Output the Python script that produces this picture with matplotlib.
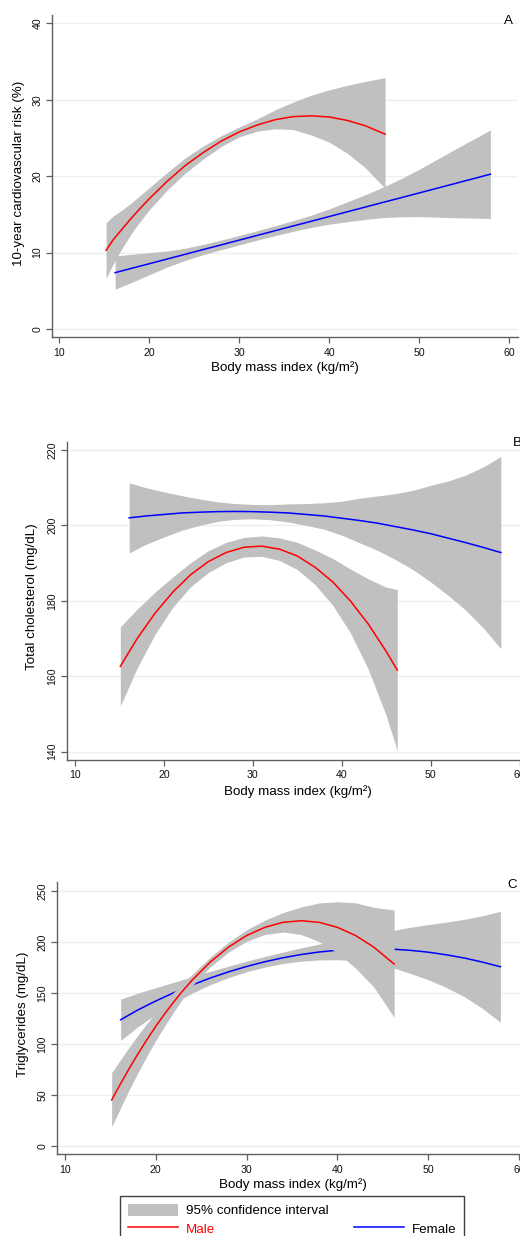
import matplotlib
matplotlib.use("Agg")
import matplotlib.pyplot as plt
from matplotlib.patches import Patch
from matplotlib.lines import Line2D

plt.rcParams['font.family'] = ['Liberation Sans', 'DejaVu Sans']

# ---------------- data ----------------
x_ticks = [10, 20, 30, 40, 50, 60]
xlabel_text = "Body mass index (kg/m²)"

# Panel A: 10-year cardiovascular risk (%)
a_yticks = [0, 10, 20, 30, 40]
a_ylabel = "10-year cardiovascular risk (%)"
a_male_x = [15.2, 16, 17, 18, 19, 20, 22, 24, 26, 28, 30, 32, 34, 36, 38, 40, 42, 44, 46.2]
a_male_fit = [10.3, 11.7, 13.1, 14.5, 15.8, 17.05, 19.35, 21.4, 23.1, 24.6, 25.8, 26.7, 27.4, 27.8, 27.9, 27.75, 27.3, 26.6, 25.5]
a_male_lo = [6.6, 8.55, 10.6, 12.5, 14.1, 15.6, 18.2, 20.4, 22.25, 23.9, 25.15, 25.9, 26.2, 26.1, 25.4, 24.45, 23.0, 21.1, 18.4]
a_male_hi = [13.9, 14.8, 15.6, 16.5, 17.5, 18.5, 20.5, 22.4, 23.95, 25.3, 26.45, 27.5, 28.7, 29.7, 30.6, 31.3, 31.9, 32.4, 32.9]
a_fem_x = [16.2, 18, 20, 22, 24, 26, 28, 30, 32, 34, 36, 38, 40, 42, 44, 46, 48, 50, 52, 54, 56, 57.9]
a_fem_fit = [7.37, 7.93, 8.54, 9.16, 9.78, 10.40, 11.01, 11.63, 12.25, 12.87, 13.49, 14.10, 14.72, 15.34, 15.96, 16.58, 17.19, 17.81, 18.43, 19.05, 19.67, 20.26]
a_fem_lo = [5.2, 6.08, 7.09, 8.11, 8.98, 9.72, 10.38, 11.01, 11.63, 12.22, 12.79, 13.30, 13.72, 14.04, 14.34, 14.58, 14.69, 14.71, 14.63, 14.55, 14.52, 14.46]
a_fem_hi = [9.55, 9.78, 9.99, 10.21, 10.58, 11.08, 11.64, 12.25, 12.87, 13.52, 14.19, 14.90, 15.72, 16.64, 17.58, 18.58, 19.69, 20.91, 22.23, 23.55, 24.82, 26.06]

# Panel B: Total cholesterol (mg/dL)
b_yticks = [140, 160, 180, 200, 220]
b_ylabel = "Total cholesterol (mg/dL)"
b_male_x = [15.1, 17, 19, 21, 23, 25, 27, 29, 31, 33, 35, 37, 39, 41, 43, 45, 46.25]
b_male_fit = [162.6, 170.0, 176.7, 182.3, 186.9, 190.4, 192.8, 194.2, 194.5, 193.7, 191.9, 188.9, 185.0, 179.9, 173.8, 166.6, 161.6]
b_male_lo = [152.1, 162.2, 171.1, 178.3, 183.7, 187.5, 190.1, 191.6, 191.8, 190.7, 188.3, 184.3, 178.8, 171.4, 161.8, 149.6, 140.2]
b_male_hi = [173.1, 177.8, 182.3, 186.3, 190.1, 193.3, 195.5, 196.8, 197.2, 196.7, 195.5, 193.5, 191.2, 188.4, 185.8, 183.6, 183.0]
b_fem_x = [16.1, 18, 20, 22, 24, 26, 28, 30, 32, 34, 36, 38, 40, 42, 44, 46, 48, 50, 52, 54, 56, 57.9]
b_fem_fit = [202.0, 202.5, 202.9, 203.3, 203.5, 203.65, 203.7, 203.65, 203.5, 203.3, 202.9, 202.5, 201.9, 201.3, 200.6, 199.7, 198.8, 197.8, 196.6, 195.4, 194.1, 192.8]
b_fem_lo = [192.7, 195.0, 196.9, 198.7, 200.0, 201.05, 201.6, 201.75, 201.5, 200.9, 200.0, 199.0, 197.4, 195.4, 193.4, 191.0, 188.3, 185.0, 181.4, 177.4, 172.6, 167.3]
b_fem_hi = [211.3, 210.0, 208.9, 207.9, 207.0, 206.25, 205.8, 205.55, 205.5, 205.7, 205.8, 206.0, 206.4, 207.2, 207.8, 208.4, 209.3, 210.6, 211.8, 213.4, 215.6, 218.3]

# Panel C: Triglycerides (mg/dL)
c_yticks = [0, 50, 100, 150, 200, 250]
c_ylabel = "Triglycerides (mg/dL)"
c_male_x = [15.14, 16, 17, 18, 19, 20, 21, 22, 23, 24, 26, 28, 30, 32, 34, 36, 38, 40, 42, 44, 46.24]
c_male_fit = [45.4, 59.3, 75.1, 90.0, 104.1, 117.5, 130.0, 141.7, 152.6, 162.7, 180.5, 195.0, 206.4, 214.4, 219.3, 220.9, 219.3, 214.4, 206.4, 195.0, 178.5]
c_male_lo = [19.3, 35.3, 54.1, 71.5, 88.1, 103.7, 118.2, 132.1, 145.1, 157.1, 175.7, 190.1, 200.8, 207.4, 209.8, 207.4, 200.3, 189.4, 174.4, 156.0, 126.3]
c_male_hi = [72.1, 83.3, 96.1, 108.5, 120.1, 131.3, 141.8, 151.3, 160.1, 168.3, 185.3, 199.9, 212.0, 221.4, 228.8, 234.4, 238.3, 239.4, 238.4, 234.0, 231.4]
c_fem_x = [16.13, 18, 20, 22, 24, 26, 28, 30, 32, 34, 36, 38, 40, 42, 44, 46.31, 48, 50, 52, 54, 56, 57.94]
c_fem_fit = [123.9, 133.4, 142.3, 150.5, 158.0, 164.8, 170.8, 176.1, 180.7, 184.6, 187.8, 190.3, 192.0, 193.1, 193.4, 192.9, 191.9, 190.1, 187.5, 184.3, 180.3, 175.8]
c_fem_lo = [103.7, 116.9, 129.3, 140.3, 150.0, 158.3, 165.2, 170.9, 175.5, 179.0, 181.3, 182.5, 182.7, 181.9, 179.9, 174.15, 169.4, 163.1, 155.5, 146.3, 134.8, 121.5]
c_fem_hi = [144.1, 149.9, 155.3, 160.7, 166.0, 171.3, 176.4, 181.3, 185.9, 190.2, 194.3, 198.1, 201.3, 204.3, 206.9, 211.65, 214.4, 217.1, 219.5, 222.3, 225.8, 230.1]

legend_labels = ["95% confidence interval", "Male", "Female"]
panel_letters = ["A", "B", "C"]

# ---------------- style ----------------
W, H = 520, 1236
CI_COLOR = "#c0c0c0"
MALE_COLOR = "#ff0000"
FEMALE_COLOR = "#0000ff"
SPINE_COLOR = "#5f5f5f"
GRID_COLOR = "#eaf1f3"
TICK_FS = 7.6
LABEL_FS = 9.6

fig = plt.figure(figsize=(W / 100, H / 100), dpi=100)


def px_axes(left, top, right, bottom):
    return fig.add_axes([left / W, 1 - bottom / H, (right - left) / W, (bottom - top) / H])


def draw_panel(ax, xlim, ylim, yticks, ylabel, male, fem, ylab_xy, xlab_y):
    mx, mfit, mlo, mhi = male
    fx, ffit, flo, fhi = fem
    ax.fill_between(fx, flo, fhi, color=CI_COLOR, lw=0, zorder=2)
    ax.plot(fx, ffit, color=FEMALE_COLOR, lw=1.1, zorder=3)
    ax.fill_between(mx, mlo, mhi, color=CI_COLOR, lw=0, zorder=4)
    ax.plot(mx, mfit, color=MALE_COLOR, lw=1.1, zorder=5)

    ax.set_xlim(*xlim)
    ax.set_ylim(*ylim)
    ax.set_xticks(x_ticks, [str(t) for t in x_ticks])
    ax.set_yticks(yticks, [str(t) for t in yticks], rotation=90, va="center")
    for s in ["top", "right"]:
        ax.spines[s].set_visible(False)
    for s in ["left", "bottom"]:
        ax.spines[s].set_color(SPINE_COLOR)
        ax.spines[s].set_linewidth(1.0)
    ax.tick_params(direction="out", length=4.5, width=0.9, color=SPINE_COLOR,
                   labelsize=TICK_FS, labelcolor="#111111")
    ax.tick_params(axis="x", pad=3.2)
    ax.tick_params(axis="y", pad=2.2)
    ax.yaxis.grid(True, color=GRID_COLOR, lw=1.0, zorder=0)
    ax.set_axisbelow(True)
    ax.set_xlabel(xlabel_text, fontsize=LABEL_FS, va="center")
    ax.xaxis.set_label_coords(0.5, xlab_y)
    ax.set_ylabel(ylabel, fontsize=LABEL_FS, va="center")
    ax.yaxis.set_label_coords(*ylab_xy)


axA = px_axes(52, 15, 518.3, 337.3)
draw_panel(axA, (9.19, 61.0), (-1.09, 41.1), a_yticks, a_ylabel,
           (a_male_x, a_male_fit, a_male_lo, a_male_hi),
           (a_fem_x, a_fem_fit, a_fem_lo, a_fem_hi),
           (-0.0708, 0.508), -0.094)

axB = px_axes(66.7, 441.7, 528.4, 759.5)
draw_panel(axB, (9.07, 61.0), (137.9, 222.2), b_yticks, b_ylabel,
           (b_male_x, b_male_fit, b_male_lo, b_male_hi),
           (b_fem_x, b_fem_fit, b_fem_lo, b_fem_hi),
           (-0.0741, 0.5115), -0.101)

axC = px_axes(56.7, 882, 528.2, 1154)
draw_panel(axC, (9.09, 61.0), (-7.5, 258.8), c_yticks, c_ylabel,
           (c_male_x, c_male_fit, c_male_lo, c_male_hi),
           (c_fem_x, c_fem_fit, c_fem_lo, c_fem_hi),
           (-0.0725, 0.514), -0.113)

# panel letters
for letter, (px, py) in zip(panel_letters, [(508, 21.3), (517, 442.5), (512.5, 884.7)]):
    fig.text(px / W, 1 - py / H, letter, ha="center", va="center", fontsize=LABEL_FS)

# legend
handles = [Patch(facecolor=CI_COLOR, edgecolor="none"),
           Line2D([], [], color=MALE_COLOR, lw=1.1),
           Line2D([], [], linestyle="none"),
           Line2D([], [], color=FEMALE_COLOR, lw=1.1)]
labels = [legend_labels[0], legend_labels[1], " ", legend_labels[2]]
leg = fig.legend(handles, labels, ncol=2, loc="upper left",
                 bbox_to_anchor=(120 / W, 1 - 1195.7 / H), borderaxespad=0,
                 fontsize=LABEL_FS, handlelength=3.75, handleheight=1.05,
                 handletextpad=0.62, columnspacing=1.85, labelspacing=0.33,
                 borderpad=0.6, fancybox=False, framealpha=1)
leg.get_frame().set_edgecolor("#404040")
leg.get_frame().set_linewidth(1.0)
leg.get_texts()[1].set_color(MALE_COLOR)

fig.savefig("out.png", dpi=100)
